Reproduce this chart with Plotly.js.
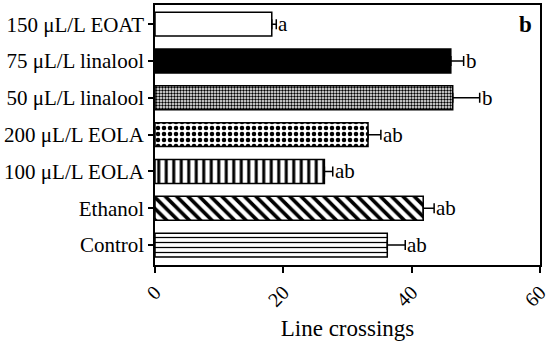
<!DOCTYPE html>
<html>
<head>
<meta charset="utf-8">
<script src="https://cdn.plot.ly/plotly-3.0.1.min.js"></script>
<style>html,body{margin:0;padding:0;background:#fff;}#chart{width:550px;height:346px;}</style>
</head>
<body>
<div id="chart"></div>
<script>
// Data (bottom to top)
const categories = ["Control", "Ethanol", "100 μL/L EOLA", "200 μL/L EOLA", "50 μL/L linalool", "75 μL/L linalool", "150 μL/L EOAT"];
const meanValues = [36.2, 41.8, 26.4, 33.2, 46.4, 46.1, 18.2];
const semValues = [2.8, 1.7, 1.3, 2.0, 4.2, 2.0, 0.7];
const groupLetters = ["ab", "ab", "ab", "ab", "b", "b", "a"];
const xTicks = [0, 20, 40, 60];
const panelLabel = "b";
const xTitle = "Line crossings";

// Styles per bar (black bar = fully solid pattern)
const patShapes = ["-", "\\", "|", ".", ".", "-", ""];
const patSizes = [5, 8, 7.5, 6, 3, 8, 8];
const patSolid = [0.25, 0.45, 0.4, 0.45, 0.5, 1, 0.3];

const font = "Liberation Serif, Times New Roman, serif";

const trace = {
  type: "bar",
  orientation: "h",
  y: categories,
  x: meanValues,
  width: 0.65,
  marker: {
    color: "white",
    line: {color: "black", width: 1.5},
    pattern: {shape: patShapes, size: patSizes, solidity: patSolid, fgcolor: "black"}
  },
  error_x: {type: "data", array: semValues, symmetric: false, arrayminus: semValues.map(() => 0), color: "black", thickness: 1.5, width: 5},
  hoverinfo: "none"
};

const annotations = categories.map((c, i) => ({
  x: meanValues[i] + semValues[i], y: c, xref: "x", yref: "y",
  text: groupLetters[i], showarrow: false, xanchor: "left", xshift: 0,
  font: {family: font, size: 21, color: "black"}
}));
annotations.push({
  x: 0.985, y: 0.925, xref: "paper", yref: "paper", text: "<b>" + panelLabel + "</b>",
  showarrow: false, xanchor: "right", yanchor: "middle",
  font: {family: font, size: 23, color: "black"}
});

const layout = {
  width: 550, height: 346,
  margin: {l: 155, r: 10, t: 5, b: 81},
  paper_bgcolor: "white", plot_bgcolor: "white",
  showlegend: false,
  font: {family: font, color: "black"},
  xaxis: {
    range: [0, 60], tickvals: xTicks, ticktext: xTicks.map(String),
    tickangle: -45, ticks: "outside", ticklen: 6, tickwidth: 1.5, tickcolor: "black",
    showline: true, linecolor: "black", linewidth: 1.5, mirror: true,
    showgrid: false, zeroline: false, automargin: false,
    tickfont: {family: font, size: 20, color: "black"},
    title: {text: xTitle, font: {family: font, size: 23, color: "black"}, standoff: 10}
  },
  yaxis: {
    type: "category", range: [-0.54, 6.52],
    ticks: "outside", ticklen: 5, tickwidth: 1.5, tickcolor: "black",
    showline: true, linecolor: "black", linewidth: 1.5, mirror: true,
    showgrid: false, zeroline: false, automargin: false,
    tickfont: {family: font, size: 21, color: "black"}
  },
  annotations: annotations
};

Plotly.newPlot("chart", [trace], layout, {displayModeBar: false});
</script>
</body>
</html>
